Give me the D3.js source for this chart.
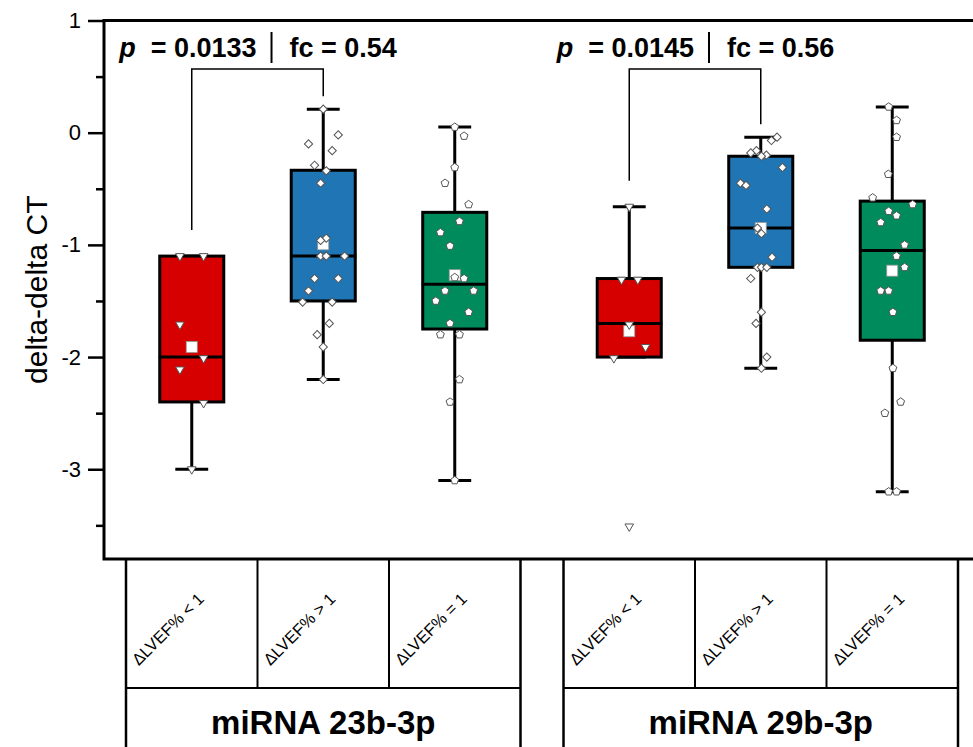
<!DOCTYPE html>
<html>
<head>
<meta charset="utf-8">
<script src="https://cdn.jsdelivr.net/npm/d3@7"></script>
<style>
  body { margin: 0; background: #fff; }
  text { font-family: Arial, "Liberation Sans", sans-serif; fill: #000; }
</style>
</head>
<body>
<svg id="chart" width="973" height="747"></svg>
<script>
// groups, categories and axis ticks
const groups = ["miRNA 23b-3p", "miRNA 29b-3p"];
const categories = ["ΔLVEF% < 1", "ΔLVEF% > 1", "ΔLVEF% = 1"];
const yTicks = [1, 0, -1, -2, -3];
const yMinorTicks = [0.5, -0.5, -1.5, -2.5, -3.5];

// box stats per category: [whisker low, q1, median, q3, whisker high, mean]
const boxes23b = [
  [-3.0, -2.4, -2.0, -1.1, -1.1, -1.91],
  [-2.2, -1.5, -1.1, -0.335, 0.21, -0.995],
  [-3.1, -1.75, -1.35, -0.71, 0.05, -1.27]
];
const boxes29b = [
  [-2.0, -2.0, -1.7, -1.3, -0.66, -1.77],
  [-2.1, -1.2, -0.85, -0.21, -0.04, -0.85],
  [-3.2, -1.85, -1.05, -0.61, 0.23, -1.23]
];

// raw points: [value, jitter as share of the category step]
const pts23bLess = [[-1.1, -0.09], [-1.1, 0.09], [-1.71, -0.09], [-2.01, 0.09], [-2.11, -0.09], [-2.41, 0.09], [-3.0, 0]];
const pts23bMore = [[0.21, 0], [-0.02, 0.114], [-0.10, -0.112], [-0.16, 0.068], [-0.29, -0.066], [-0.34, 0.023],
  [-0.45, -0.02], [-0.94, 0.023], [-0.96, -0.02], [-1.1, -0.02], [-1.1, 0.023], [-1.1, 0.162], [-1.30, -0.066],
  [-1.30, 0.114], [-1.41, -0.112], [-1.51, -0.157], [-1.51, 0.068], [-1.70, 0.046], [-1.80, -0.046], [-1.91, 0], [-2.20, 0]];
const pts23bSame = [[0.05, 0], [-0.03, 0.071], [-0.31, 0], [-0.45, -0.074], [-0.64, 0.106], [-0.79, 0.036],
  [-0.89, -0.109], [-1.01, -0.036], [-1.29, 0], [-1.30, 0.071], [-1.41, -0.074], [-1.41, 0.144], [-1.50, -0.144],
  [-1.60, 0.106], [-1.70, -0.036], [-1.80, -0.109], [-1.80, 0.036], [-2.20, 0.036], [-2.40, -0.036], [-3.10, 0]];
const pts29bLess = [[-0.66, 0], [-1.31, -0.059], [-1.31, 0.065], [-1.71, 0], [-1.91, 0.124], [-2.01, -0.117], [-3.51, 0]];
const pts29bMore = [[-0.04, 0.124], [-0.07, 0.081], [-0.16, -0.033], [-0.18, -0.076], [-0.20, 0.043], [-0.21, 0.005],
  [-0.31, 0.165], [-0.45, -0.154], [-0.47, -0.112], [-0.68, 0.046], [-0.85, -0.025], [-0.90, 0.005], [-1.11, 0.086],
  [-1.20, -0.025], [-1.20, 0.005], [-1.20, 0.046], [-1.30, -0.076], [-1.60, 0.005], [-1.70, -0.036], [-2.00, 0.046], [-2.10, 0.005]];
const pts29bSame = [[0.23, -0.027], [0.11, 0.033], [-0.04, 0.033], [-0.37, -0.03], [-0.58, -0.149], [-0.64, 0.155],
  [-0.70, -0.027], [-0.74, 0.033], [-0.80, -0.088], [-1.00, 0.094], [-1.10, 0.033], [-1.20, 0.094], [-1.41, -0.088],
  [-1.41, -0.027], [-1.60, 0.005], [-2.10, 0.005], [-2.40, 0.064], [-2.50, -0.056], [-3.20, -0.027], [-3.20, 0.033]];

const pValues = ["0.0133", "0.0145"];
const foldChanges = ["0.54", "0.56"];

const boxesByGroup = [boxes23b, boxes29b];
const pointsByGroup = [[pts23bLess, pts23bMore, pts23bSame], [pts29bLess, pts29bMore, pts29bSame]];

const svg = d3.select("#chart");
const W = 973, H = 747;
const plotLeft = 104, plotTop = 20.5, plotBottom = 559;

const y = d3.scaleLinear().domain([-3.8, 1]).range([plotBottom, plotTop]);
const xGroup = d3.scaleBand().domain(groups).range([126, 958]).paddingInner(0.0983);
const xCat = d3.scaleBand().domain(categories).range([0, xGroup.bandwidth()]);
const step = xCat.step();

const colors = ["#d60000", "#2076b4", "#008b5c"];

// marker shapes
const symbolPentagon = {
  draw(ctx, size) {
    const r = Math.sqrt(size / 2.378);
    for (let i = 0; i < 5; i++) {
      const a = -Math.PI / 2 + i * 2 * Math.PI / 5;
      i ? ctx.lineTo(r * Math.cos(a), r * Math.sin(a)) : ctx.moveTo(r * Math.cos(a), r * Math.sin(a));
    }
    ctx.closePath();
  }
};
const markers = [
  { type: d3.symbolTriangle, size: 32, rot: 180 },
  { type: d3.symbolSquare, size: 34, rot: 45 },
  { type: symbolPentagon, size: 40, rot: 0 }
];

// axes
const yAxis = svg.append("g")
  .attr("transform", `translate(${plotLeft},0)`)
  .call(d3.axisLeft(y).tickValues(yTicks).tickSize(16).tickPadding(7).tickFormat(d => String(d)));
yAxis.select(".domain").remove();
yAxis.selectAll("line").attr("stroke-width", 2.5);
yAxis.selectAll("text").style("font-size", "22px");

const yMinor = svg.append("g")
  .attr("transform", `translate(${plotLeft},0)`)
  .call(d3.axisLeft(y).tickValues(yMinorTicks).tickSize(8).tickFormat(""));
yMinor.select(".domain").remove();
yMinor.selectAll("line").attr("stroke-width", 2.5);

svg.append("text")
  .attr("transform", `translate(47,${(plotTop + plotBottom) / 2}) rotate(-90)`)
  .attr("text-anchor", "middle")
  .style("font-size", "30px")
  .text("delta-delta CT");

// lower table with category and group labels
const rowMid = 688;
groups.forEach(g => {
  const x0 = xGroup(g);
  const t = svg.append("g").attr("transform", `translate(${x0},0)`);
  categories.forEach((c, i) => {
    if (i > 0) {
      t.append("line").attr("x1", xCat(c)).attr("x2", xCat(c))
        .attr("y1", plotBottom).attr("y2", rowMid).attr("stroke", "#000").attr("stroke-width", 2);
    }
    t.append("text")
      .attr("transform", `translate(${xCat(c) + step / 2 - 23},630) rotate(-45)`)
      .attr("text-anchor", "middle")
      .attr("dominant-baseline", "middle")
      .style("font-size", "16.5px")
      .text(c);
  });
  t.append("line").attr("x1", 0).attr("x2", xGroup.bandwidth())
    .attr("y1", rowMid).attr("y2", rowMid).attr("stroke", "#000").attr("stroke-width", 2);
  [0, xGroup.bandwidth()].forEach(xx => {
    t.append("line").attr("x1", xx).attr("x2", xx)
      .attr("y1", plotBottom).attr("y2", H + 5).attr("stroke", "#000").attr("stroke-width", 2.5);
  });
  t.append("text")
    .attr("x", xGroup.bandwidth() / 2).attr("y", 734)
    .attr("text-anchor", "middle")
    .style("font-size", "33px").style("font-weight", "bold")
    .text(g);
});

// boxes, whiskers, points
const boxW = step * 0.487, capW = step * 0.25;
groups.forEach((g, gi) => {
  const gg = svg.append("g").attr("transform", `translate(${xGroup(g)},0)`);
  categories.forEach((c, ci) => {
    const [lo, q1, med, q3, hi, mean] = boxesByGroup[gi][ci];
    const cx = xCat(c) + step / 2;
    const b = gg.append("g");
    b.append("line").attr("x1", cx).attr("x2", cx).attr("y1", y(q3)).attr("y2", y(hi))
      .attr("stroke", "#000").attr("stroke-width", 3);
    b.append("line").attr("x1", cx).attr("x2", cx).attr("y1", y(q1)).attr("y2", y(lo))
      .attr("stroke", "#000").attr("stroke-width", 3);
    [lo, hi].forEach(v => {
      b.append("line").attr("x1", cx - capW / 2).attr("x2", cx + capW / 2)
        .attr("y1", y(v)).attr("y2", y(v)).attr("stroke", "#000").attr("stroke-width", 3);
    });
    b.append("rect")
      .attr("x", cx - boxW / 2).attr("y", y(q3))
      .attr("width", boxW).attr("height", y(q1) - y(q3))
      .attr("fill", colors[ci]).attr("stroke", "#000").attr("stroke-width", 3);
    b.append("line").attr("x1", cx - boxW / 2 - 1).attr("x2", cx + boxW / 2 + 1)
      .attr("y1", y(med)).attr("y2", y(med)).attr("stroke", "#000").attr("stroke-width", 3);
    b.append("rect")
      .attr("x", cx - 5.5).attr("y", y(mean) - 5.5).attr("width", 11).attr("height", 11)
      .attr("fill", "#fff").attr("stroke", "#999").attr("stroke-width", 0.8);
    const m = markers[ci];
    b.selectAll("path.pt").data(pointsByGroup[gi][ci]).join("path")
      .attr("class", "pt")
      .attr("d", d3.symbol().type(m.type).size(m.size))
      .attr("transform", d => `translate(${cx + d[1] * step},${y(d[0])}) rotate(${m.rot})`)
      .attr("fill", "#fff").attr("stroke", "#555").attr("stroke-width", 1);
  });

  // significance bracket and label
  const [c0, c1] = categories;
  const x0 = xCat(c0) + step / 2, x1 = xCat(c1) + step / 2;
  const bracketY = 69;
  gg.append("path")
    .attr("d", d3.line()([
      [x0, y(boxesByGroup[gi][0][4]) - 26], [x0, bracketY], [x1, bracketY], [x1, y(boxesByGroup[gi][1][4]) - 13]
    ]))
    .attr("fill", "none").attr("stroke", "#000").attr("stroke-width", 1.5);

  const lab = gg.append("g");
  const lt = lab.append("text").attr("x", -15).attr("y", 56.5).attr("text-anchor", "end")
    .style("font-size", "27px").style("font-weight", "bold");
  lt.append("tspan").style("font-style", "italic").text("p");
  lt.append("tspan").attr("dx", 15).text("= " + pValues[gi]);
  lab.append("line").attr("x1", 0).attr("x2", 0).attr("y1", 32).attr("y2", 63)
    .attr("stroke", "#000").attr("stroke-width", 2);
  lab.append("text").attr("x", 18).attr("y", 56.5)
    .style("font-size", "27px").style("font-weight", "bold")
    .text("fc = " + foldChanges[gi]);
  const bb = lab.node().getBBox();
  const mid = (x0 + x1) / 2;
  lab.attr("transform", `translate(${mid - (bb.x + bb.width / 2)},0)`);
});

// plot frame (right side runs past the window)
svg.append("path")
  .attr("d", d3.line()([[W + 10, plotTop], [plotLeft, plotTop], [plotLeft, plotBottom], [W + 10, plotBottom]]))
  .attr("fill", "none").attr("stroke", "#000").attr("stroke-width", 3);
</script>
</body>
</html>
